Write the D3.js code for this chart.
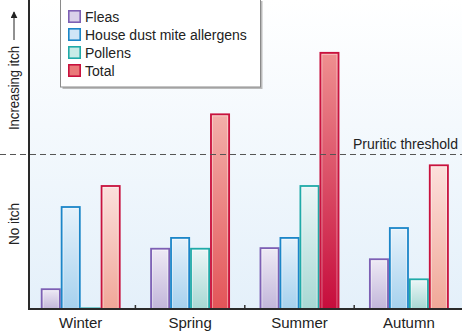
<!DOCTYPE html>
<html>
<head>
<meta charset="utf-8">
<script src="https://cdn.jsdelivr.net/npm/d3@7"></script>
<style>
  html, body { margin: 0; padding: 0; background: #fff; }
  svg { display: block; font-family: "Liberation Sans", Arial, sans-serif; }
</style>
</head>
<body>
<svg id="chart" width="462" height="333"></svg>
<script>
// Itch contribution by season (arbitrary units, 0 = no itch)
const seasons = ["Winter", "Spring", "Summer", "Autumn"];
const fleas = [6.7, 19.8, 20.0, 16.4];
const houseDust = [33.3, 23.3, 23.3, 26.5];
const pollens = [0.5, 19.8, 40.1, 9.9];
const total = [40.1, 63.3, 83.2, 46.8];
const threshold = 50;
const seriesNames = ["Fleas", "House dust mite allergens", "Pollens", "Total"];

const series = [
  { key: "fleas", name: seriesNames[0], values: fleas },
  { key: "dust", name: seriesNames[1], values: houseDust },
  { key: "pollen", name: seriesNames[2], values: pollens },
  { key: "total", name: seriesNames[3], values: total }
];

// colours
const strokeColor = { fleas: "#7d60b4", dust: "#1c86c8", pollen: "#20aaa8", total: "#c8123e" };
const barGrad = {
  fleas: ["#eeeaf5", "#c2b6da"],
  dust: ["#e6f2fb", "#a6d1ee"],
  pollen: ["#ecf6f7", "#a7d8d3"]
};
const totalGrad = {
  Winter: ["#fbe0dc", "#f0a698"],
  Spring: ["#f3b0aa", "#e35458"],
  Summer: ["#ef9090", "#c60c3c"],
  Autumn: ["#fce0dc", "#f0a898"]
};
const swatchFill = { fleas: "#d9d1ea", dust: "#cfe5f7", pollen: "#c9ebe7", total: "#ea7a7a" };

const svg = d3.select("#chart");
const W = 462, H = 333;
const baseY = 309, axisX = 29;

const x = d3.scaleBand().domain(seasons).range([26, 463.6]).paddingInner(0.27).paddingOuter(0.135);
const xs = d3.scaleBand().domain(series.map(s => s.key)).range([0, x.bandwidth()]);
const y = d3.scaleLinear().domain([0, 100]).range([baseY, 0]);

const defs = svg.append("defs");
function vGrad(id, c0, c1) {
  const g = defs.append("linearGradient").attr("id", id)
    .attr("x1", 0).attr("y1", 0).attr("x2", 0).attr("y2", 1);
  g.append("stop").attr("offset", "0%").attr("stop-color", c0);
  g.append("stop").attr("offset", "100%").attr("stop-color", c1);
}
vGrad("bg", "#ffffff", "#e4f0fa");
Object.entries(barGrad).forEach(([k, c]) => vGrad("g-" + k, c[0], c[1]));
Object.entries(totalGrad).forEach(([k, c]) => vGrad("g-total-" + k, c[0], c[1]));
defs.append("marker").attr("id", "arrowhead")
  .attr("viewBox", "0 0 10 10").attr("refX", 9).attr("refY", 5)
  .attr("markerWidth", 7).attr("markerHeight", 7).attr("markerUnits", "userSpaceOnUse")
  .attr("orient", "auto")
  .append("path").attr("d", "M0,0 L10,5 L0,10 Z").attr("fill", "#222");

// plot background
svg.append("rect").attr("x", axisX).attr("y", 0).attr("width", W - axisX).attr("height", baseY)
  .attr("fill", "url(#bg)");

// bars
const groups = svg.append("g").selectAll("g").data(seasons).join("g")
  .attr("transform", d => `translate(${x(d)},0)`);

groups.each(function (season, i) {
  const g = d3.select(this);
  series.forEach(s => {
    const v = s.values[i];
    const bx = xs(s.key), bw = xs.bandwidth();
    const top = y(v), h = baseY - top;
    const fill = s.key === "total" ? `url(#g-total-${season})` : `url(#g-${s.key})`;
    g.append("rect")
      .attr("x", bx + 0.9).attr("y", top + 0.9)
      .attr("width", bw - 1.8).attr("height", Math.max(h - 0.9, 0.5))
      .attr("fill", fill)
      .attr("stroke", strokeColor[s.key]).attr("stroke-width", 1.8);
    if (h > 6) {
      g.append("rect")
        .attr("x", bx + 2.5).attr("y", top + 2.5)
        .attr("width", bw - 5).attr("height", h - 3)
        .attr("fill", "none").attr("stroke", "#fff").attr("stroke-opacity", 0.45).attr("stroke-width", 0.8);
    }
  });
});

// axes
const xAxis = d3.axisBottom(x).tickSize(0).tickPadding(8);
const xg = svg.append("g").attr("transform", `translate(0,${baseY})`).call(xAxis);
xg.select(".domain").remove();
xg.selectAll("text").attr("font-size", 15).attr("fill", "#222")
  .attr("font-family", "'Liberation Sans', Arial, sans-serif");

// category separators
const step = x.step();
svg.append("g").selectAll("line").data(seasons.slice(1)).join("line")
  .attr("x1", d => x(d) - step * x.paddingInner() / 2)
  .attr("x2", d => x(d) - step * x.paddingInner() / 2)
  .attr("y1", baseY - 4).attr("y2", baseY)
  .attr("stroke", "#333").attr("stroke-width", 1.5);

svg.append("line").attr("x1", axisX).attr("x2", W).attr("y1", baseY).attr("y2", baseY)
  .attr("stroke", "#2a2a2a").attr("stroke-width", 2);
svg.append("line").attr("x1", axisX).attr("x2", axisX).attr("y1", 0).attr("y2", baseY + 1)
  .attr("stroke", "#2a2a2a").attr("stroke-width", 2);

// threshold
svg.append("line").attr("x1", 0).attr("x2", W).attr("y1", y(threshold)).attr("y2", y(threshold))
  .attr("stroke", "#555").attr("stroke-width", 1.1).attr("stroke-dasharray", "6,4");
svg.append("text").attr("x", 458).attr("y", y(threshold) - 6)
  .attr("text-anchor", "end").attr("font-size", 14).attr("fill", "#222").text("Pruritic threshold");

// y labels
svg.append("text").attr("transform", `translate(19,130) rotate(-90)`)
  .attr("font-size", 14.5).attr("fill", "#222")
  .attr("textLength", 84).attr("lengthAdjust", "spacingAndGlyphs")
  .text("Increasing itch");
svg.append("line").attr("x1", 14).attr("x2", 14).attr("y1", 40).attr("y2", 12)
  .attr("stroke", "#222").attr("stroke-width", 1).attr("marker-end", "url(#arrowhead)");
svg.append("text").attr("transform", `translate(19,224) rotate(-90)`)
  .attr("text-anchor", "middle").attr("font-size", 14.5).attr("fill", "#222")
  .attr("textLength", 42).attr("lengthAdjust", "spacingAndGlyphs")
  .text("No itch");

// legend
const lg = svg.append("g");
lg.append("rect").attr("x", 62.5).attr("y", 1).attr("width", 200).attr("height", 88).attr("fill", "#bbb");
lg.append("rect").attr("x", 60.5).attr("y", -1).attr("width", 200).attr("height", 88)
  .attr("fill", "#fff").attr("stroke", "#8a8a8a").attr("stroke-width", 1);
const rows = lg.selectAll("g").data(series).join("g")
  .attr("transform", (d, i) => `translate(68,${10 + i * 18})`);
rows.append("rect").attr("x", 0.8).attr("y", 0.8).attr("width", 11.4).attr("height", 11.4)
  .attr("fill", d => swatchFill[d.key]).attr("stroke", d => strokeColor[d.key]).attr("stroke-width", 1.6);
rows.append("text").attr("x", 17).attr("y", 11.5).attr("font-size", 14).attr("fill", "#222")
  .text(d => d.name);
</script>
</body>
</html>
